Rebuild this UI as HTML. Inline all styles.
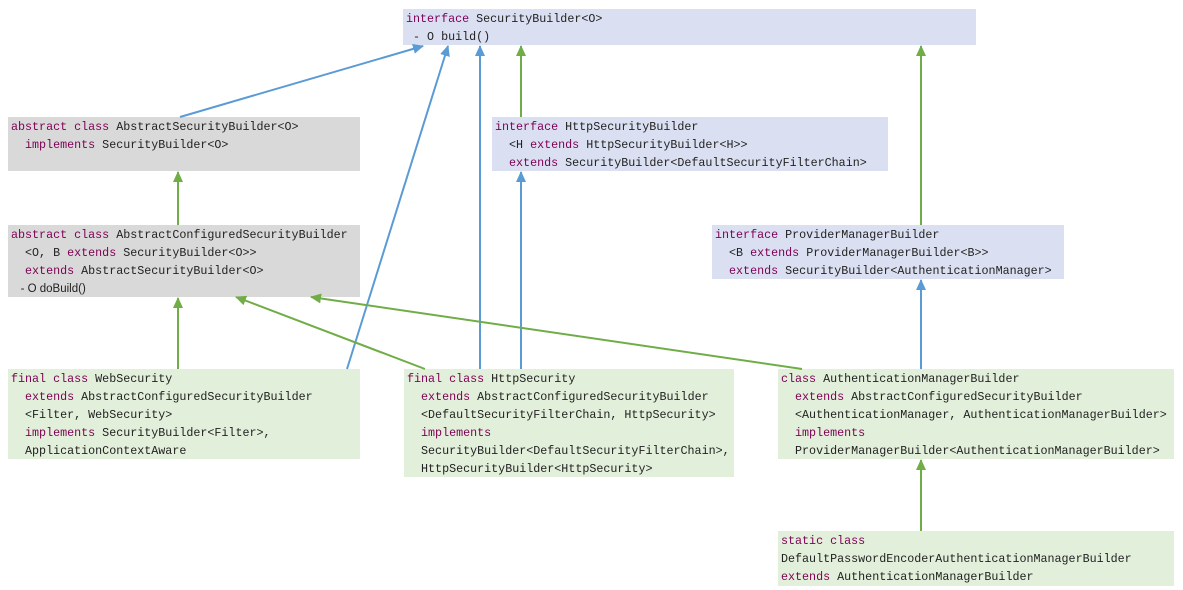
<!DOCTYPE html>
<html><head><meta charset="utf-8"><style>
html,body{margin:0;padding:0;background:#fff;width:1183px;height:590px;overflow:hidden;position:relative}
.b{position:absolute;box-sizing:border-box;padding:1px 0 0 3px;font-family:"Liberation Mono",monospace;font-size:11.7px;line-height:18px;color:#222;white-space:pre}
.k{color:#7f0055}
.lav{background:#dae0f1}.gr{background:#d9d9d9}.gn{background:#e2efda}
.s{font-family:"Liberation Sans",sans-serif;font-size:11.5px}
svg{position:absolute;left:0;top:0}
</style></head><body>
<div class="b lav" style="left:403px;top:9px;width:573px;height:36px"><span class="k">interface</span> SecurityBuilder&lt;O&gt;
 - O build()</div>
<div class="b gr" style="left:8px;top:117px;width:352px;height:54px"><span class="k">abstract class</span> AbstractSecurityBuilder&lt;O&gt;
  <span class="k">implements</span> SecurityBuilder&lt;O&gt;</div>
<div class="b lav" style="left:492px;top:117px;width:396px;height:54px"><span class="k">interface</span> HttpSecurityBuilder
  &lt;H <span class="k">extends</span> HttpSecurityBuilder&lt;H&gt;&gt;
  <span class="k">extends</span> SecurityBuilder&lt;DefaultSecurityFilterChain&gt;</div>
<div class="b gr" style="left:8px;top:225px;width:352px;height:72px"><span class="k">abstract class</span> AbstractConfiguredSecurityBuilder
  &lt;O, B <span class="k">extends</span> SecurityBuilder&lt;O&gt;&gt;
  <span class="k">extends</span> AbstractSecurityBuilder&lt;O&gt;
<span class="s">   - O doBuild()</span></div>
<div class="b lav" style="left:712px;top:225px;width:352px;height:54px"><span class="k">interface</span> ProviderManagerBuilder
  &lt;B <span class="k">extends</span> ProviderManagerBuilder&lt;B&gt;&gt;
  <span class="k">extends</span> SecurityBuilder&lt;AuthenticationManager&gt;</div>
<div class="b gn" style="left:8px;top:369px;width:352px;height:90px"><span class="k">final class</span> WebSecurity
  <span class="k">extends</span> AbstractConfiguredSecurityBuilder
  &lt;Filter, WebSecurity&gt;
  <span class="k">implements</span> SecurityBuilder&lt;Filter&gt;,
  ApplicationContextAware</div>
<div class="b gn" style="left:404px;top:369px;width:330px;height:108px"><span class="k">final class</span> HttpSecurity
  <span class="k">extends</span> AbstractConfiguredSecurityBuilder
  &lt;DefaultSecurityFilterChain, HttpSecurity&gt;
  <span class="k">implements</span>
  SecurityBuilder&lt;DefaultSecurityFilterChain&gt;,
  HttpSecurityBuilder&lt;HttpSecurity&gt;</div>
<div class="b gn" style="left:778px;top:369px;width:396px;height:90px"><span class="k">class</span> AuthenticationManagerBuilder
  <span class="k">extends</span> AbstractConfiguredSecurityBuilder
  &lt;AuthenticationManager, AuthenticationManagerBuilder&gt;
  <span class="k">implements</span>
  ProviderManagerBuilder&lt;AuthenticationManagerBuilder&gt;</div>
<div class="b gn" style="left:778px;top:531px;width:396px;height:55px"><span class="k">static class</span>
DefaultPasswordEncoderAuthenticationManagerBuilder
<span class="k">extends</span> AuthenticationManagerBuilder</div>
<svg width="1183" height="590">
<defs>
<marker id="bl" markerWidth="12" markerHeight="12" refX="10" refY="5" orient="auto" markerUnits="userSpaceOnUse"><path d="M0,0 L11,5 L0,10 z" fill="#5b9bd5"/></marker>
<marker id="gn" markerWidth="12" markerHeight="12" refX="10" refY="5" orient="auto" markerUnits="userSpaceOnUse"><path d="M0,0 L11,5 L0,10 z" fill="#70ad47"/></marker>
</defs>
<g stroke-width="2" fill="none">
<line x1="180" y1="117" x2="423" y2="46" stroke="#5b9bd5" marker-end="url(#bl)"/>
<line x1="347" y1="369" x2="448" y2="46" stroke="#5b9bd5" marker-end="url(#bl)"/>
<line x1="480" y1="369" x2="480" y2="46" stroke="#5b9bd5" marker-end="url(#bl)"/>
<line x1="521" y1="369" x2="521" y2="172" stroke="#5b9bd5" marker-end="url(#bl)"/>
<line x1="921" y1="369" x2="921" y2="280" stroke="#5b9bd5" marker-end="url(#bl)"/>
<line x1="521" y1="117" x2="521" y2="46" stroke="#70ad47" marker-end="url(#gn)"/>
<line x1="921" y1="225" x2="921" y2="46" stroke="#70ad47" marker-end="url(#gn)"/>
<line x1="178" y1="225" x2="178" y2="172" stroke="#70ad47" marker-end="url(#gn)"/>
<line x1="178" y1="369" x2="178" y2="298" stroke="#70ad47" marker-end="url(#gn)"/>
<line x1="425" y1="369" x2="236" y2="297" stroke="#70ad47" marker-end="url(#gn)"/>
<line x1="802" y1="369" x2="311" y2="297" stroke="#70ad47" marker-end="url(#gn)"/>
<line x1="921" y1="531" x2="921" y2="460" stroke="#70ad47" marker-end="url(#gn)"/>
</g>
</svg>
</body></html>
